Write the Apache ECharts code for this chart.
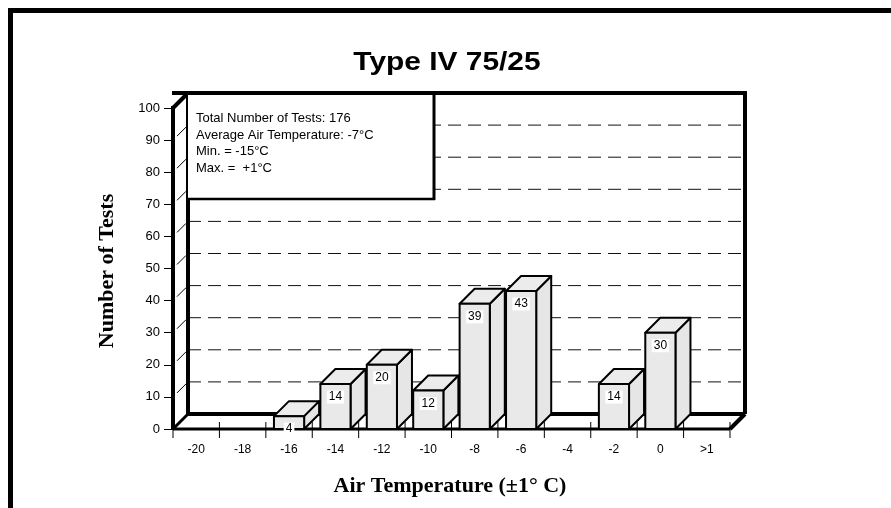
<!DOCTYPE html>
<html>
<head>
<meta charset="utf-8">
<script src="https://cdn.jsdelivr.net/npm/echarts@6/dist/echarts.min.js"></script>
<style>
html,body{margin:0;padding:0;background:#fff;}
#chart{width:891px;height:508px;}
</style>
</head>
<body>
<div id="chart"></div>
<script>
// ---- data ----
const categories = ['-20','-18','-16','-14','-12','-10','-8','-6','-4','-2','0','>1'];
const testCounts = [0, 0, 4, 14, 20, 12, 39, 43, 0, 14, 30, 0];
const yTicks = [0,10,20,30,40,50,60,70,80,90,100];
const gridLevels = [10,20,30,40,50,60,70,80,90];
const titleText = 'Type IV 75/25';
const yTitle = 'Number of Tests';
const xTitle = 'Air Temperature (±1° C)';
const infoLines = ['Total Number of Tests: 176','Average Air Temperature: -7°C','Min. = -15°C','Max. =  +1°C'];

// ---- style constants ----
const DX = 15, DY = -15;
const SANS = 'Arial, "Liberation Sans", sans-serif';
const SERIF = '"Times New Roman", "Liberation Serif", serif';

const chart = echarts.init(document.getElementById('chart'), null, {renderer:'canvas'});

function frameRender(params, api){
  const cs = params.coordSys;
  const L = cs.x, T = cs.y, R = cs.x + cs.width, B = cs.y + cs.height;
  const ch = [];
  const line = (x1,y1,x2,y2,w,extra) => ch.push({type:'line', shape:{x1,y1,x2,y2}, style:Object.assign({stroke:'#000', lineWidth:w}, extra||{})});
  // dashed grid on back wall
  gridLevels.forEach(v => {
    const yf = api.coord([0, v])[1];
    line(L+DX, yf+DY, R+DX, yf+DY, 1, {lineDash:[13,7], stroke:'#111'});
    // small diagonal on left side wall
    line(L+4, yf-4, L+DX-2, yf+DY+2, 1);
  });
  // back wall outline
  line(L+DX, T+DY, L+DX, B+DY, 4);
  line(L+DX, B+DY, R+DX, B+DY, 4);
  line(L-1, T+DY, R+DX+2, T+DY, 4);
  line(R+DX, T+DY-2, R+DX, B+DY, 4);
  line(R, B, R+DX, B+DY, 4);
  // left side wall
  line(L, T, L+DX, T+DY, 4);
  line(L, B, L+DX, B+DY, 3);
  line(L, T-2, L, B+1, 4);
  line(L, B, R, B, 3);
  // x ticks at category boundaries
  const bw = api.size([1,0])[0];
  const c0 = api.coord([0,0])[0] - bw/2;
  for (let i = 0; i <= categories.length; i++) {
    const x = c0 + i*bw;
    line(x, B-7, x, B+9, 1);
  }
  return {type:'group', children:ch};
}

function barRender(params, api){
  const i = api.value(0), v = api.value(1);
  if (!v) return null;
  const top = api.coord([i, v]);
  const bot = api.coord([i, 0]);
  const bw = api.size([1,0])[0];
  const w = bw * 0.65;
  const x0 = top[0] - w/2, x1 = top[0] + w/2;
  const yt = top[1], yb = bot[1];
  const st = (fill) => ({fill, stroke:'#000', lineWidth:2, lineJoin:'round'});
  return {type:'group', children:[
    {type:'polygon', shape:{points:[[x1,yt],[x1+DX,yt+DY],[x1+DX,yb+DY],[x1,yb]]}, style:st('#e6e6e6')},
    {type:'polygon', shape:{points:[[x0,yt],[x0+DX,yt+DY],[x1+DX,yt+DY],[x1,yt]]}, style:st('#ececec')},
    {type:'rect', shape:{x:x0, y:yt, width:w, height:yb-yt}, style:st('#e9e9e9')},
    {type:'text', x:(x0+x1)/2, y:yt+13, style:{text:String(v), fill:'#000', font:'12px '+SANS, align:'center', verticalAlign:'middle', backgroundColor:'#fff', padding:[1,2,0,2]}}
  ]};
}

const option = {
  backgroundColor:'#fff',
  animation:false,
  grid:{left:173, top:108, width:557, height:321},
  xAxis:{
    type:'category', data:categories,
    axisLine:{show:false}, axisTick:{show:false},
    axisLabel:{color:'#000', fontSize:12, fontFamily:SANS, margin:15, interval:0}
  },
  yAxis:{
    type:'value', min:0, max:100, interval:10,
    axisLine:{show:false},
    axisTick:{show:true, length:9, lineStyle:{color:'#000', width:1}},
    splitLine:{show:false},
    axisLabel:{color:'#000', fontSize:13, fontFamily:SANS, margin:13}
  },
  series:[
    {type:'custom', renderItem:frameRender, data:[[0,0]], clip:false, z:1, silent:true},
    {type:'custom', renderItem:barRender, data:testCounts.map((v,i)=>[i,v]), clip:false, z:3, silent:true}
  ],
  graphic:{elements:[
    {type:'polyline', z:100, shape:{points:[[10.5,508],[10.5,10.5],[891,10.5]]}, style:{stroke:'#000', lineWidth:5, fill:null}},
    {type:'text', z:100, x:447, y:63, scaleX:1.15, style:{text:titleText, font:'bold 26px '+SANS, fill:'#000', align:'center', verticalAlign:'middle'}},
    {type:'text', z:100, x:107, y:271, rotation:Math.PI/2, style:{text:yTitle, font:'bold 22px '+SERIF, fill:'#000', align:'center', verticalAlign:'middle'}},
    {type:'text', z:100, x:450, y:486, style:{text:xTitle, font:'bold 22px '+SERIF, fill:'#000', align:'center', verticalAlign:'middle'}},
    {type:'rect', z:100, shape:{x:187.5, y:94.5, width:246, height:104}, style:{fill:'#fff', stroke:'#000', lineWidth:1}},
    {type:'line', z:101, shape:{x1:434, y1:94, x2:434, y2:200}, style:{stroke:'#000', lineWidth:3}},
    {type:'line', z:101, shape:{x1:187, y1:199, x2:435, y2:199}, style:{stroke:'#000', lineWidth:2.5}},
    {type:'text', z:101, x:196, y:110, style:{text:infoLines.join('\n'), font:'13px '+SANS, fill:'#000', lineHeight:16.7, verticalAlign:'top'}}
  ]}
};
chart.setOption(option);
</script>
</body>
</html>
